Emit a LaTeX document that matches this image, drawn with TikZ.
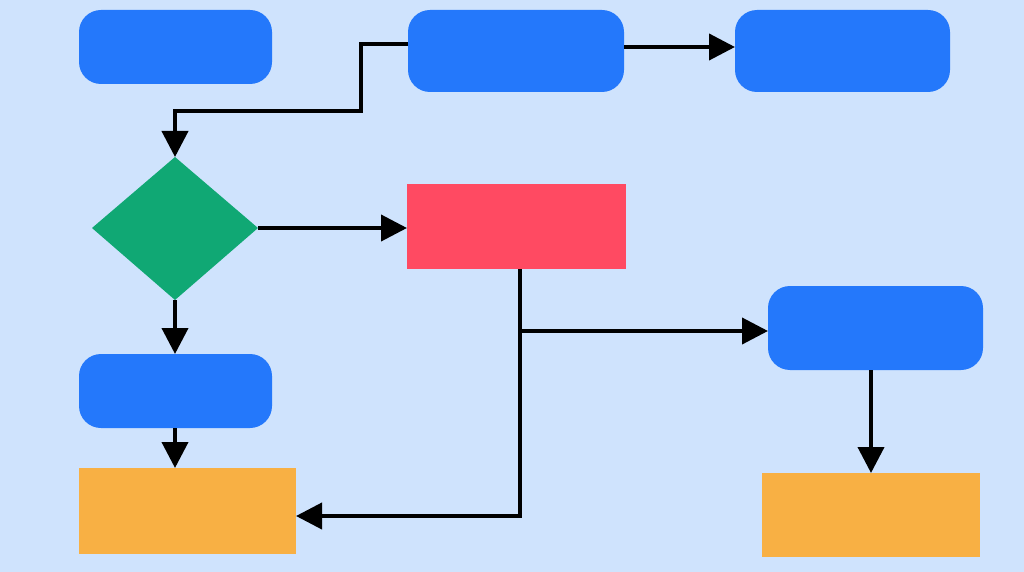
\documentclass[tikz,border=0pt]{standalone}
\usetikzlibrary{arrows.meta,shapes.geometric}
\definecolor{bg}{HTML}{CFE3FD}
\definecolor{blu}{HTML}{2478FB}
\definecolor{rd}{HTML}{FF4A62}
\definecolor{org}{HTML}{F8B044}
\definecolor{grn}{HTML}{10A874}
\begin{document}
\begin{tikzpicture}[x=1pt,y=-1pt,
  rbox/.style={fill=blu,rounded corners=22pt},
  conn/.style={line width=4pt,-{Triangle[length=26pt,width=26pt]}},
  plain/.style={line width=4pt}]
\fill[bg] (0,0) rectangle (1024,572);
\useasboundingbox (0,0) rectangle (1024,572);
\path[rbox] (79,10) rectangle (272,84);
\path[rbox] (408,10) rectangle (624,92);
\path[rbox] (735,10) rectangle (950,92);
\path[rbox] (768,286) rectangle (983,370);
\path[rbox] (79,354) rectangle (272,428);
\fill[rd] (407,184) rectangle (626,269);
\fill[org] (79,468) rectangle (296,554);
\fill[org] (762,473) rectangle (980,557);
\fill[grn] (175,157) -- (258,228) -- (175,300) -- (92,228) -- cycle;
\coordinate (btop) at (175,157);
\coordinate (br) at (520,331);
\draw[conn] (408,44) -- (361,44) -- (361,111) -- (175,111) -- (btop);
\draw[conn] (624,47) -- (735,47);
\draw[conn] (258,228) -- (407,228);
\draw[conn] (175,300) -- (175,354);
\draw[conn] (175,428) -- (175,468);
\draw[conn] (520,269) -- (520,516) -- (296,516);
\draw[conn] (br) -- (768,331);
\draw[conn] (871,370) -- (871,473);
\end{tikzpicture}
\end{document}
